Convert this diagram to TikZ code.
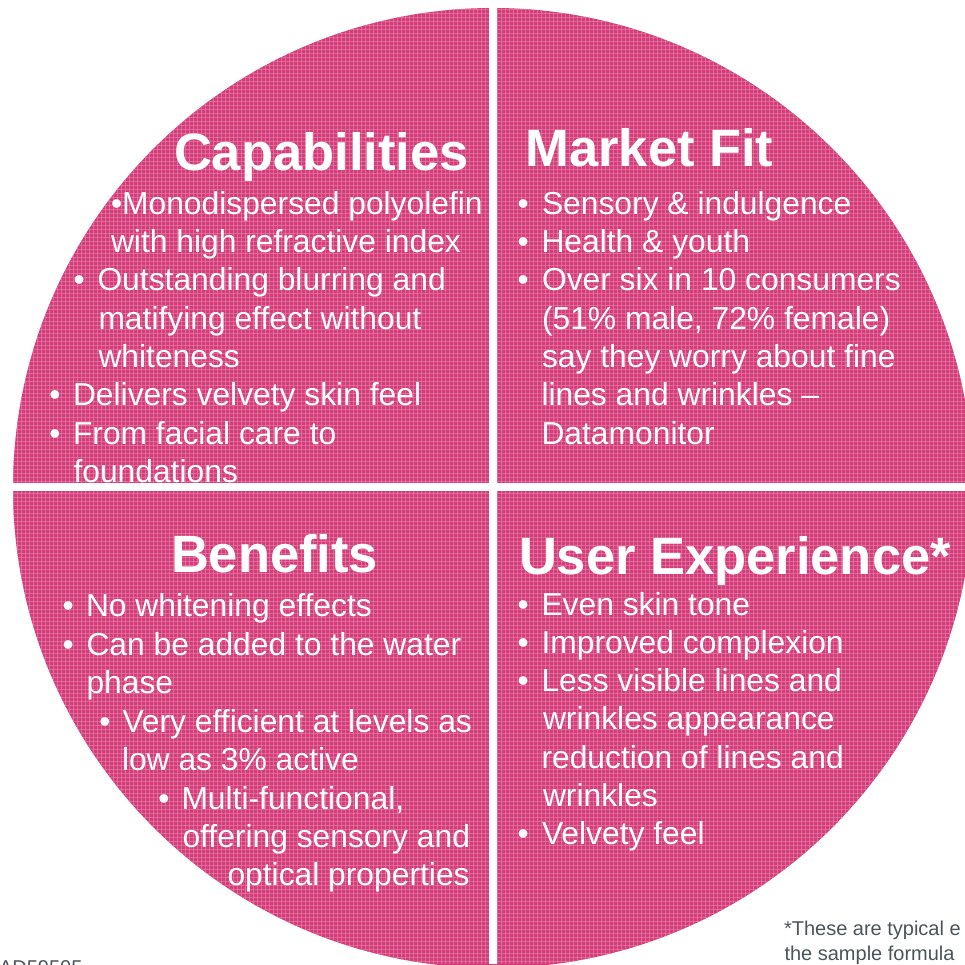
\documentclass[tikz,border=0pt]{standalone}
\usepackage{fontspec}
\setmainfont{Liberation Sans}
\definecolor{quadpink}{HTML}{D43C7A}
\definecolor{gridpink}{HTML}{E57BA6}
\definecolor{notegray}{HTML}{4B5559}
\tikzset{
  body/.style={anchor=base west, inner sep=0pt, outer sep=0pt, text=white, font=\fontsize{31.8}{38}\selectfont},
  ttl/.style={anchor=base west, inner sep=0pt, outer sep=0pt, text=white, font=\bfseries\fontsize{52.5}{60}\selectfont},
  bul/.style={anchor=base west, inner sep=0pt, outer sep=0pt, text=white, font=\fontsize{31.8}{38}\selectfont},
  note/.style={anchor=base west, inner sep=0pt, outer sep=0pt, text=notegray, font=\fontsize{20}{24}\selectfont},
  gridline/.style={draw=gridpink, line width=0.8pt, opacity=0.7}
}
\begin{document}
\begin{tikzpicture}[x=1pt,y=-1pt]
\useasboundingbox (0,0) rectangle (965,964);
\clip (0,0) rectangle (965,964);
% disc with fine grid texture
\fill[quadpink] (493,488) circle[radius=480pt];
\begin{scope}
\clip (493,488) circle[radius=480pt];
\foreach \k in {0,...,242} {
  \draw[gridline] (4*\k+1.5,0) -- (4*\k+1.5,964);
  \draw[gridline] (0,4*\k+1.5) -- (965,4*\k+1.5);
}
\end{scope}
\begin{scope}[shift={(0,2.5)}]
% Capabilities
\node[ttl] (capT) at (174,167.5) {Capabilities};
\node[body] (cap1) at (111,211.7) {•Monodispersed polyolefin};
\node[body] (cap1b) at (111,250) {with high refractive index};
\node[bul] (capb2) at (73.7,288.3) {•};
\node[body] (cap2) at (97.5,288.3) {Outstanding blurring and};
\node[body] (cap2b) at (98.5,326.7) {matifying effect without};
\node[body] (cap2c) at (98.5,365) {whiteness};
\node[bul] (capb3) at (49.4,403.3) {•};
\node[body] (cap3) at (73,403.3) {Delivers velvety skin feel};
\node[bul] (capb4) at (49.4,441.7) {•};
\node[body] (cap4) at (73,441.7) {From facial care to};
\node[body] (cap4b) at (73.5,480) {foundations};
% Market Fit
\node[ttl] (mfT) at (525.5,164.3) {Market Fit};
\node[bul] (mfb1) at (517.7,211.7) {•};
\node[body] (mf1) at (542,211.7) {Sensory \& indulgence};
\node[bul] (mfb2) at (517.7,250) {•};
\node[body] (mf2) at (541.5,250) {Health \& youth};
\node[bul] (mfb3) at (517.7,288.3) {•};
\node[body] (mf3) at (542,288.3) {Over six in 10 consumers};
\node[body] (mf3b) at (542,326.7) {(51\% male, 72\% female)};
\node[body] (mf3c) at (542,365) {say they worry about fine};
\node[body] (mf3d) at (541.5,403.3) {lines and wrinkles –};
\node[body] (mf3e) at (541.5,441.7) {Datamonitor};
% Benefits
\node[ttl] (bnT) at (171,570) {Benefits};
\node[bul] (bnb1) at (62.7,614.3) {•};
\node[body] (bn1) at (86,614.3) {No whitening effects};
\node[bul] (bnb2) at (62.7,652.7) {•};
\node[body] (bn2) at (86.5,652.7) {Can be added to the water};
\node[body] (bn2b) at (86.5,691) {phase};
\node[bul] (bnb3) at (99.4,730) {•};
\node[body] (bn3) at (122.5,730) {Very efficient at levels as};
\node[body] (bn3b) at (122,768.3) {low as 3\% active};
\node[bul] (bnb4) at (158.4,806.7) {•};
\node[body] (bn4) at (181.5,806.7) {Multi-functional,};
\node[body] (bn4b) at (182.5,845) {offering sensory and};
\node[body] (bn4c) at (227.5,883.3) {optical properties};
% User Experience
\node[ttl] (uxT) at (519,571.7) {User Experience*};
\node[bul] (uxb1) at (517.7,612.7) {•};
\node[body] (ux1) at (541.5,612.7) {Even skin tone};
\node[bul] (uxb2) at (517.7,650.7) {•};
\node[body] (ux2) at (541.5,650.7) {Improved complexion};
\node[bul] (uxb3) at (517.7,689) {•};
\node[body] (ux3) at (541.5,689) {Less visible lines and};
\node[body] (ux3b) at (543,727.3) {wrinkles appearance};
\node[body] (ux3c) at (541.5,765.7) {reduction of lines and};
\node[body] (ux3d) at (543,804) {wrinkles};
\node[bul] (uxb4) at (517.7,842.3) {•};
\node[body] (ux4) at (542,842.3) {Velvety feel};
\end{scope}
% separating strips
\fill[white] (489,0) rectangle (497,964);
\fill[white] (0,483) rectangle (965,491);
% footnotes
\node[note] (fn1) at (784,935) {*These are typical e};
\node[note] (fn2) at (784.5,960) {the sample formula};
\node[note] (ref) at (-1,974.5) {AD59505};
\end{tikzpicture}
\end{document}
